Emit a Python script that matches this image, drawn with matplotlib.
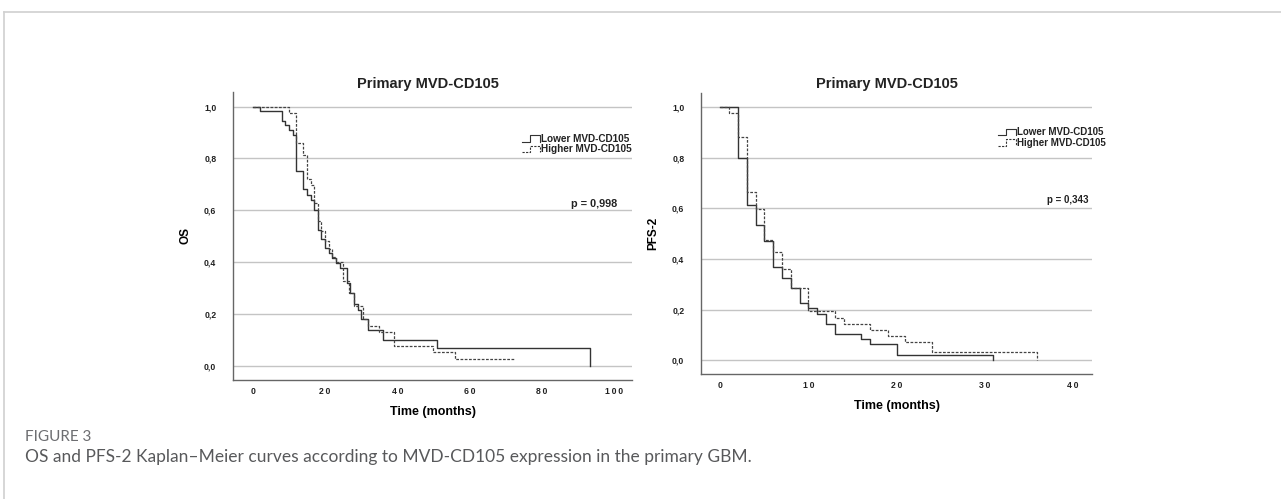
import matplotlib
matplotlib.use("Agg")
import matplotlib.pyplot as plt
from matplotlib.lines import Line2D

# OS curves (months, survival)
os_low_t = [0, 2, 8, 9, 10, 11, 12, 14, 15, 16, 17, 18, 19, 20, 21, 22, 23, 24, 26, 27, 28, 29, 30, 32, 36, 51, 93.5]
os_low_s = [1.0, 0.982, 0.946, 0.927, 0.909, 0.891, 0.75, 0.68, 0.66, 0.64, 0.60, 0.525, 0.49, 0.454, 0.434, 0.415,
            0.398, 0.376, 0.318, 0.28, 0.238, 0.215, 0.179, 0.138, 0.099, 0.067, 0.0]
os_high_t = [0, 10, 12, 14, 15, 16, 17, 18, 19, 20, 21, 22, 23, 25, 26.5, 28, 30.5, 32, 35, 39, 50, 56, 72.7]
os_high_s = [1.0, 0.976, 0.86, 0.812, 0.72, 0.698, 0.628, 0.557, 0.518, 0.48, 0.45, 0.42, 0.40, 0.325, 0.28, 0.23,
             0.179, 0.153, 0.129, 0.076, 0.052, 0.027, 0.027]

# PFS-2 curves
pfs_low_t = [0, 2, 3, 4, 5, 6, 7, 8, 9, 10, 11, 12, 13, 16, 17, 20, 31]
pfs_low_s = [1.0, 0.80, 0.612, 0.534, 0.47, 0.367, 0.327, 0.286, 0.225, 0.205, 0.185, 0.142, 0.103, 0.083, 0.063,
             0.021, 0.0]
pfs_high_t = [0, 1, 2, 3, 4, 5, 6, 7, 8, 10, 13, 14, 17, 19, 21, 24, 36]
pfs_high_s = [1.0, 0.978, 0.882, 0.665, 0.597, 0.474, 0.428, 0.359, 0.286, 0.194, 0.168, 0.143, 0.119, 0.096, 0.071,
              0.035, 0.0]

yticks = [0.0, 0.2, 0.4, 0.6, 0.8, 1.0]
ytick_labels = ["0,0", "0,2", "0,4", "0,6", "0,8", "1,0"]
os_xticks = [0, 20, 40, 60, 80, 100]
pfs_xticks = [0, 10, 20, 30, 40]
groups = ["Lower MVD-CD105", "Higher MVD-CD105"]

plt.rcParams["font.family"] = ["Liberation Sans", "DejaVu Sans"]

fig = plt.figure(figsize=(12.81, 4.99), dpi=100)

# figure frame (top and left edges)
fig.add_artist(Line2D([4 / 1281, 1], [1 - 12 / 499] * 2, color="#d0d0d0", lw=1.2))
fig.add_artist(Line2D([4 / 1281] * 2, [0, 1 - 12 / 499], color="#d0d0d0", lw=1.2))

ax1 = fig.add_axes([233 / 1281, 1 - 380 / 499, 399 / 1281, 288 / 499])
ax2 = fig.add_axes([701 / 1281, 1 - 374.3 / 499, 391 / 1281, 281.3 / 499])


def style(ax, xticks, xlim, ylabel):
    ax.set_xlim(*xlim)
    ax.set_ylim(-0.055, 1.056)
    ax.set_yticks(yticks)
    ax.set_yticklabels(ytick_labels)
    ax.set_xticks(xticks)
    ax.set_xticklabels(["\u2009".join(str(v)) for v in xticks])
    ax.tick_params(length=0, labelsize=6.2, colors="#222222")
    ax.tick_params(axis="y", pad=12)
    ax.tick_params(axis="x", pad=5)
    for lab in ax.get_xticklabels() + ax.get_yticklabels():
        lab.set_fontweight("bold")
    ax.grid(axis="y", color="#c4c4c4", lw=1.0)
    ax.set_axisbelow(True)
    for s in ["top", "right"]:
        ax.spines[s].set_visible(False)
    for s in ["left", "bottom"]:
        ax.spines[s].set_color("#666666")
        ax.spines[s].set_linewidth(1.0)
    ax.set_xlabel("Time (months)", fontsize=9, fontweight="bold", labelpad=7)
    ax.set_ylabel(ylabel, fontsize=8.5, fontweight="bold", labelpad=9)


def legend(ax, x0, ys, fs):
    w = 0.045
    for y, ls, lab in zip(ys, ["-", "--"], groups):
        ax.add_artist(Line2D([x0, x0 + w * 0.45, x0 + w * 0.45, x0 + w, x0 + w],
                             [y - 0.012, y - 0.012, y + 0.012, y + 0.012, y - 0.012],
                             transform=ax.transAxes, color="#333333", lw=0.8, ls=ls,
                             dashes=(2, 1.2) if ls == "--" else (None, None)))
        ax.text(x0 + w + 0.004, y, lab, transform=ax.transAxes, fontsize=fs, fontweight="bold",
                va="center", ha="left", color="#222222")


# OS panel
ax1.step(os_low_t, os_low_s, where="post", color="#333333", lw=1.0)
ax1.step(os_high_t, os_high_s, where="post", color="#444444", lw=0.9, ls=(0, (2.2, 1.2)))
style(ax1, os_xticks, (-5.5, 105), "OS")
ax1.text(0.489, 1.028, "Primary MVD-CD105", transform=ax1.transAxes, ha="center", va="center",
         fontsize=10.5, fontweight="bold", color="#222222")
ax1.text(0.962, 0.611, "p = 0,998", transform=ax1.transAxes, ha="right", va="center",
         fontsize=7.8, fontweight="bold", color="#222222")
legend(ax1, 0.724, [0.838, 0.802], 7.2)

# PFS-2 panel
ax2.step(pfs_low_t, pfs_low_s, where="post", color="#333333", lw=1.0)
ax2.step(pfs_high_t, pfs_high_s, where="post", color="#444444", lw=0.9, ls=(0, (2.2, 1.2)))
style(ax2, pfs_xticks, (-2.2, 42.2), "PFS-2")
ax2.text(0.476, 1.032, "Primary MVD-CD105", transform=ax2.transAxes, ha="center", va="center",
         fontsize=10.5, fontweight="bold", color="#222222")
ax2.text(0.99, 0.62, "p = 0,343", transform=ax2.transAxes, ha="right", va="center",
         fontsize=7, fontweight="bold", color="#222222")
legend(ax2, 0.76, [0.861, 0.823], 7)

# caption
fig.text(25 / 1281, 1 - 437 / 499, "FIGURE 3", fontsize=11, color="#6d6e71", family="Lato",
         va="center", ha="left")
fig.text(25 / 1281, 1 - 457 / 499,
         "OS and PFS-2 Kaplan\u2013Meier curves according to MVD-CD105 expression in the primary GBM.",
         fontsize=12.5, color="#58595b", family="Lato", va="center", ha="left")

fig.savefig("out.png", dpi=100)
